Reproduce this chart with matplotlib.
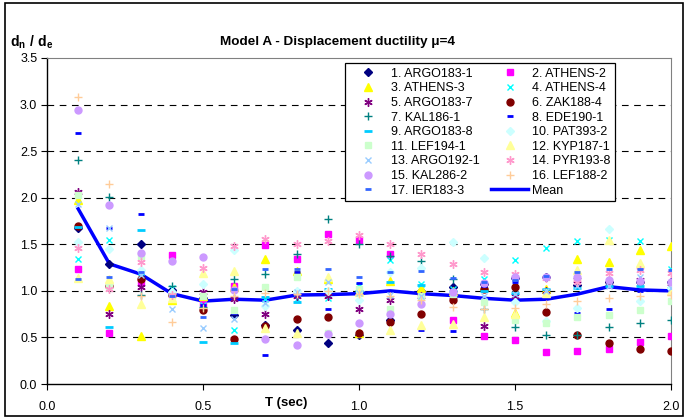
import matplotlib.pyplot as plt
from matplotlib.patches import Rectangle

plt.rcParams['font.family'] = ['Liberation Sans', 'DejaVu Sans']
plt.rcParams['mathtext.fontset'] = 'custom'
plt.rcParams['mathtext.bf'] = 'Liberation Sans:bold'
plt.rcParams['mathtext.rm'] = 'Liberation Sans'

# periods (sec)
periods = [0.1, 0.2, 0.3, 0.4, 0.5, 0.6, 0.7, 0.8, 0.9, 1.0,
           1.1, 1.2, 1.3, 1.4, 1.5, 1.6, 1.7, 1.8, 1.9, 2.0]

# dn/de ratios per record
argo183_1 = [1.68, 1.29, 1.50, 1.01, 0.92, 0.74, 0.63, 0.585, 0.445, 0.53, 0.69, 1.0, 1.045, 1.07, 1.14, 1.15, 1.06, 1.1, 1.1, 1.1]
athens_2 = [1.24, 0.55, 1.09, 1.385, 0.87, 1.05, 1.49, 1.34, 1.61, 1.55, 1.395, 0.98, 0.69, 0.51, 0.47, 0.34, 0.355, 0.38, 0.455, 0.52]
athens_3 = [1.98, 0.84, 0.515, 0.90, 0.95, 1.04, 1.34, 1.215, 1.13, 0.545, 1.11, 1.03, 1.0, 1.05, 0.76, 1.02, 1.34, 1.31, 1.44, 1.485]
athens_4 = [1.34, 1.545, 1.205, 1.03, 0.85, 0.585, 0.91, 0.91, 0.92, 1.05, 1.33, 1.07, 1.02, 1.13, 1.33, 1.46, 1.535, 1.545, 1.54, 1.24]
argo183_7 = [2.06, 0.75, 1.045, 0.97, 0.99, 0.91, 0.75, 0.95, 0.95, 0.81, 0.9, 0.95, 0.95, 0.625, 0.95, 1.0, 1.12, 1.08, 1.12, 1.08]
zak188_4 = [1.70, 1.05, 1.13, 0.96, 0.79, 0.48, 0.62, 0.70, 0.715, 0.55, 0.67, 0.75, 0.90, 1.02, 1.04, 0.77, 0.525, 0.435, 0.375, 0.355]
kal186_1 = [2.41, 2.01, 0.955, 1.05, 0.83, 1.13, 1.18, 1.395, 1.77, 1.50, 1.37, 1.32, 1.125, 0.80, 0.615, 0.525, 0.525, 0.61, 0.65, 0.69]
ede190_1 = [2.70, 1.67, 1.82, 1.0, 0.85, 0.76, 0.31, 1.2, 0.80, 1.08, 0.75, 0.58, 0.57, 1.05, 1.1, 1.15, 0.76, 0.80, 1.0, 0.89]
argo183_8 = [1.69, 0.615, 1.65, 0.98, 0.455, 0.44, 0.93, 0.88, 1.015, 1.0, 1.1, 1.06, 1.0, 1.0, 0.98, 1.02, 1.03, 1.05, 1.05, 1.03]
pat393_2 = [1.52, 1.445, 1.22, 0.99, 1.07, 1.44, 0.84, 1.0, 1.0, 0.90, 1.20, 1.25, 1.52, 1.35, 0.88, 0.68, 0.82, 1.66, 0.89, 1.03]
lef194_1 = [2.03, 1.055, 1.37, 0.94, 0.94, 0.79, 1.04, 1.15, 0.55, 1.02, 0.81, 0.95, 0.97, 0.88, 0.69, 0.66, 0.715, 0.74, 0.795, 0.89]
kyp187_1 = [1.14, 1.13, 0.855, 0.92, 1.19, 1.215, 0.60, 0.545, 1.15, 0.99, 0.58, 0.63, 0.645, 0.72, 0.75, 0.98, 1.22, 1.545, 1.3, 1.0]
argo192_1 = [1.93, 1.67, 1.17, 0.81, 0.60, 0.70, 0.87, 0.99, 1.10, 0.98, 0.955, 0.94, 0.98, 0.95, 0.97, 1.0, 1.05, 1.05, 1.15, 1.03]
pyr193_8 = [1.46, 1.015, 1.31, 0.96, 1.25, 1.48, 1.56, 1.50, 1.53, 1.60, 1.50, 1.40, 1.29, 1.205, 1.18, 1.14, 1.1, 1.19, 1.22, 1.19]
kal286_2 = [2.94, 1.92, 1.41, 1.32, 1.36, 1.01, 0.48, 0.42, 0.535, 0.65, 0.755, 0.86, 0.99, 1.08, 1.15, 1.145, 1.15, 1.12, 1.11, 1.09]
lef188_2 = [3.08, 2.15, 0.95, 0.67, 0.82, 0.95, 0.98, 0.97, 1.0, 0.97, 0.95, 0.9, 0.83, 0.80, 0.82, 0.855, 0.89, 0.92, 0.945, 0.96]
ier183_3 = [1.13, 1.15, 1.20, 0.95, 0.715, 1.02, 1.23, 1.24, 1.23, 1.145, 1.2, 1.21, 1.14, 1.1, 1.12, 1.16, 1.2, 1.24, 1.24, 1.22]

mean_ratio = [1.88, 1.29, 1.18, 0.97, 0.89, 0.91, 0.90, 0.955, 0.96, 0.97,
              1.00, 0.97, 0.95, 0.92, 0.90, 0.91, 0.965, 1.045, 1.01, 1.0]

labels = ['1. ARGO183-1', '2. ATHENS-2', '3. ATHENS-3', '4. ATHENS-4', '5. ARGO183-7',
          '6. ZAK188-4', '7. KAL186-1', '8. EDE190-1', '9. ARGO183-8', '10. PAT393-2',
          '11. LEF194-1', '12. KYP187-1', '13. ARGO192-1', '14. PYR193-8', '15. KAL286-2',
          '16. LEF188-2', '17. IER183-3']

records = [argo183_1, athens_2, athens_3, athens_4, argo183_7, zak188_4, kal186_1,
           ede190_1, argo183_8, pat393_2, lef194_1, kyp187_1, argo192_1, pyr193_8,
           kal286_2, lef188_2, ier183_3]

# Excel-like marker styles: (marker, colour, size)
star = (6, 2, 0)
styles = [('D', '#000080', 4), ('s', '#FF00FF', 5), ('^', '#FFFF00', 6), ('x', '#00FFFF', 5),
          (star, '#800080', 6), ('o', '#800000', 5), ('+', '#008080', 6), ('_', '#0000FF', 4),
          ('_', '#00CCFF', 6), ('D', '#CCFFFF', 4), ('s', '#CCFFCC', 5), ('^', '#FFFF99', 6),
          ('x', '#99CCFF', 5), (star, '#FF99CC', 6), ('o', '#CC99FF', 5), ('+', '#FFCC99', 6),
          ('_', '#3366FF', 4)]

fig = plt.figure(figsize=(6.89, 4.19), dpi=100)
ax = fig.add_axes([47 / 689, 1 - 384 / 419, (671 - 47) / 689, (384 - 58) / 419])

handles = []
for vals, lab, (mk, col, ms) in zip(records, labels, styles):
    lw_m = 2 if mk == '_' else 1
    h, = ax.plot(periods, vals, linestyle='none', marker=mk, markersize=ms,
                 color=col, markeredgecolor=col, markeredgewidth=lw_m, label=lab, zorder=3)
    handles.append(h)

mean_h, = ax.plot(periods, mean_ratio, color='#0000FF', lw=2.5, label='Mean', zorder=2)
handles.append(mean_h)

ax.set_xlim(0, 2.0)
ax.set_ylim(0, 3.5)
ax.set_xticks([0.0, 0.5, 1.0, 1.5, 2.0])
ax.set_yticks([0.0, 0.5, 1.0, 1.5, 2.0, 2.5, 3.0, 3.5])
ax.set_xticklabels(['0.0', '0.5', '1.0', '1.5', '2.0'])
ax.set_yticklabels(['0.0', '0.5', '1.0', '1.5', '2.0', '2.5', '3.0', '3.5'])
ax.tick_params(labelsize=9, length=4, width=0.8, direction='out', pad=8)
ax.tick_params(axis='y', pad=3)

for y in [0.5, 1.0, 1.5, 2.0, 2.5, 3.0]:
    ax.axhline(y, color='black', lw=0.8, linestyle=(0, (6, 5)), zorder=1)

for side in ['top', 'right']:
    ax.spines[side].set_color('#808080')
for side in ['left', 'bottom']:
    ax.spines[side].set_linewidth(1.0)

# legend is filled row by row in the original, matplotlib fills by column
col1 = handles[0::2]
col2 = handles[1::2]
leg = ax.legend(col1 + col2, [h.get_label() for h in col1 + col2], ncol=2,
                loc='upper left', bbox_to_anchor=(0.468, 1.003), fontsize=9,
                frameon=True, fancybox=False, edgecolor='black', framealpha=1,
                borderpad=0.35, labelspacing=0.21, handlelength=3.0,
                columnspacing=0.9, handletextpad=0.3)
leg.get_frame().set_linewidth(0.9)

fig.text(338 / 689, 1 - 42 / 419, 'Model A - Displacement ductility μ=4',
         ha='center', va='center', fontsize=9.7, fontweight='bold')
fig.text(10 / 689, 1 - 42 / 419, r'$\mathbf{d_n\ /\ d_e}$',
         ha='left', va='center', fontsize=10)
fig.text(265 / 689, 1 - 403 / 419, 'T (sec)', ha='left', va='center',
         fontsize=9.5, fontweight='bold')

fig.patches.append(Rectangle((5 / 689, 3 / 419), 678 / 689, 413 / 419,
                             transform=fig.transFigure, fill=False,
                             edgecolor='black', lw=1.2))

fig.savefig('out.png', dpi=100)
